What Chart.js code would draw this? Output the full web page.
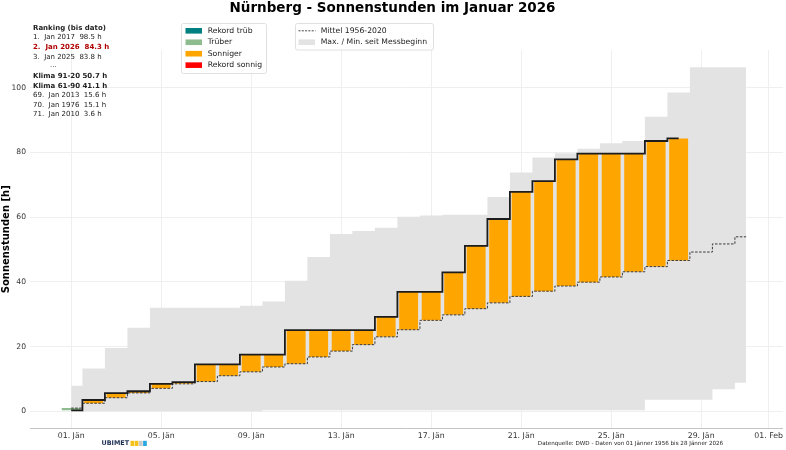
<!DOCTYPE html>
<html><head><meta charset="utf-8">
<script src="https://cdn.jsdelivr.net/npm/chart.js@4.4.1/dist/chart.umd.min.js"></script>
<style>html,body{margin:0;padding:0;background:#fff}#wrap{width:786px;height:450px;position:relative}</style>
</head><body><div id="wrap"><canvas id="c" width="786" height="450" style="width:786px;height:450px"></canvas></div>
<script>
// ---- data ----
const days = [1,2,3,4,5,6,7,8,9,10,11,12,13,14,15,16,17,18,19,20,21,22,23,24,25,26,27,28,29,30,31];
const sun2026 = [0.3,3.5,5.6,6.2,8.5,9.0,14.5,14.5,17.5,17.5,25.1,25.1,25.1,25.1,29.2,36.9,36.9,42.9,51.1,59.4,67.8,71.1,77.8,79.6,79.6,79.6,83.5,84.3];
const mean = [1.0,2.5,4.2,5.7,7.1,8.5,9.2,11.0,12.2,13.7,14.7,16.8,18.6,20.6,23.0,25.2,28.1,29.8,31.7,33.5,35.5,37.1,38.7,39.9,41.5,43.1,44.7,46.6,49.2,51.7,53.9];
const bandMax = [7.9,13.2,19.6,25.8,32.0,32.0,32.0,32.0,32.6,33.9,40.3,47.7,54.8,55.7,56.7,60.1,60.5,60.7,60.7,66.2,73.8,78.4,79.7,81.1,82.8,83.5,91.0,98.5,106.3,106.3,106.3];
const bandMin = [0,0,0,0,0,0,0,0,0,0.3,0.3,0.3,0.3,0.3,0.3,0.3,0.3,0.3,0.3,0.3,0.3,0.3,0.3,0.3,0.3,0.3,3.6,3.6,3.6,6.8,8.8];
const xTickValues = [1,5,9,13,17,21,25,29,32];
const xTickLabels = ['01. Jän','05. Jän','09. Jän','13. Jän','17. Jän','21. Jän','25. Jän','29. Jän','01. Feb'];
const yTickValues = [0,20,40,60,80,100];
const rankingLines = ['Ranking (bis dato)','1.  Jan 2017  98.5 h','2.  Jan 2026  84.3 h','3.  Jan 2025  83.8 h','...','Klima 91-20 50.7 h','Klima 61-90 41.1 h','69.  Jan 2013  15.6 h','70.  Jan 1976  15.1 h','71.  Jan 2010  3.6 h'];
const rankingStyle = ['bold','normal','red','normal','dots','bold','bold','normal','normal','normal'];
const legend1 = ['Rekord trüb','Trüber','Sonniger','Rekord sonnig'];
const legend2 = ['Mittel 1956-2020','Max. / Min. seit Messbeginn'];

const C_TEAL = '#008080', C_GREEN = '#8fbc8f', C_ORANGE = '#ffa500', C_RED = '#ff0000', C_BAND = '#e3e3e3';
const FONT = "'DejaVu Sans', sans-serif";

function barColor(i) {
  const v = sun2026[i], m = mean[i];
  if (v >= bandMax[i]) return C_RED;
  if (v <= bandMin[i] && v < m) return C_TEAL;
  return v >= m ? C_ORANGE : C_GREEN;
}

const overlay = {
  id: 'overlay',
  afterDraw(chart) {
    const ctx = chart.ctx;
    ctx.save();
    ctx.textBaseline = 'middle';
    ctx.textAlign = 'left';
    // ranking block
    rankingLines.forEach((t, i) => {
      const st = rankingStyle[i];
      ctx.font = (st === 'bold' || st === 'red' ? 'bold ' : '') + '7px ' + FONT;
      ctx.fillStyle = st === 'red' ? '#b00000' : '#222';
      const x = st === 'dots' ? 50 : 33;
      const y = 27.8 + i * 9.65 + (st === 'dots' ? -1.5 : 0);
      ctx.fillText(t, x, y);
    });
    // legend 1
    function frame(x, y, w, h) {
      ctx.fillStyle = 'rgba(255,255,255,0.85)';
      ctx.strokeStyle = '#d8d8d8';
      ctx.lineWidth = 0.8;
      ctx.beginPath();
      if (ctx.roundRect) ctx.roundRect(x, y, w, h, 2); else ctx.rect(x, y, w, h);
      ctx.fill(); ctx.stroke();
    }
    frame(181.5, 23.5, 85, 50);
    const cols = [C_TEAL, C_GREEN, C_ORANGE, C_RED];
    ctx.font = '7.7px ' + FONT;
    legend1.forEach((t, i) => {
      const y = 30.8 + i * 11.45;
      ctx.fillStyle = cols[i];
      ctx.fillRect(185.5, y - 2.8, 16.5, 5.6);
      ctx.fillStyle = '#222';
      ctx.fillText(t, 207.7, y);
    });
    frame(295.5, 23.5, 138, 26.5);
    // dashed line entry
    ctx.strokeStyle = '#333';
    ctx.lineWidth = 0.9;
    ctx.setLineDash([2, 1.3]);
    ctx.beginPath(); ctx.moveTo(298.5, 30.8); ctx.lineTo(315.5, 30.8); ctx.stroke();
    ctx.setLineDash([]);
    ctx.fillStyle = C_BAND;
    ctx.fillRect(298.5, 42.2 - 2.8, 16.5, 5.6);
    ctx.fillStyle = '#222';
    ctx.fillText(legend2[0], 320.7, 30.8);
    ctx.fillText(legend2[1], 320.7, 42.2);
    // logo
    ctx.font = 'bold 6.4px ' + FONT;
    ctx.fillStyle = '#1b2d4f';
    ctx.fillText('UBIMET', 101.5, 443.5);
    const lc = ['#f5c21b', '#f5c21b', '#c9c9c9', '#27a6df'];
    lc.forEach((c, i) => { ctx.fillStyle = c; ctx.fillRect(130.5 + i * 4.2, 440.8, 3.7, 5.2); });
    // footer
    ctx.font = '5.6px ' + FONT;
    ctx.fillStyle = '#222';
    ctx.textAlign = 'center';
    ctx.fillText('Datenquelle: DWD - Daten von 01 Jänner 1956 bis 28 Jänner 2026', 630.5, 443.3);
    ctx.restore();
  }
};

const pts = (arr) => arr.map((v, i) => ({x: days[i], y: v}));

new Chart(document.getElementById('c'), {
  type: 'line',
  data: {
    datasets: [
      { label: 'Max', data: pts(bandMax), stepped: 'middle', borderWidth: 0, borderColor: 'rgba(0,0,0,0)', backgroundColor: C_BAND, pointRadius: 0, fill: '+1', order: 5 },
      { label: 'Min', data: pts(bandMin), stepped: 'middle', borderWidth: 0, borderColor: 'rgba(0,0,0,0)', pointRadius: 0, fill: false, order: 5 },
      { label: 'Mittel', data: pts(mean), stepped: 'middle', borderColor: '#3a3a3a', borderWidth: 1, borderDash: [2.5, 1.5], pointRadius: 0, fill: false, order: 2 },
      { type: 'bar', label: 'Bars', data: sun2026.map((v, i) => ({x: days[i], y: [mean[i], v]})),
        backgroundColor: (c) => barColor(c.dataIndex), borderWidth: 0, categoryPercentage: 1, barPercentage: 0.84, order: 3 },
      { label: '2026', data: pts(sun2026), stepped: 'middle', borderColor: '#1c1c1c', borderWidth: 1.8, pointRadius: 0, fill: false, order: 1 }
    ]
  },
  options: {
    responsive: false,
    animation: false,
    events: [],
    layout: { padding: { left: 0, right: 1, top: 0, bottom: 0 } },
    plugins: {
      legend: { display: false },
      tooltip: { enabled: false },
      title: { display: true, text: 'Nürnberg - Sonnenstunden im Januar 2026', color: '#000',
        font: { family: FONT, size: 13.5, weight: 'bold' }, padding: { top: 0.5, bottom: 33.3 } }
    },
    scales: {
      x: {
        type: 'linear', min: -0.83, max: 32.63, offset: false,
        afterBuildTicks: (s) => { s.ticks = xTickValues.map(v => ({value: v})); },
        afterFit: (s) => { s.height = 21.5; },
        ticks: { autoSkip: false, maxRotation: 0, padding: 3, color: '#333', font: { family: FONT, size: 7.8 },
          callback: (v, i) => xTickLabels[i] },
        grid: { color: '#efefef', lineWidth: 1, drawTicks: false, offset: false },
        border: { display: true, color: '#c4c4c4', width: 1 }
      },
      y: {
        type: 'linear', min: -5.3, max: 111.6,
        afterBuildTicks: (s) => { s.ticks = yTickValues.map(v => ({value: v})); },
        afterFit: (s) => { s.width = 30; },
        ticks: { padding: 4, color: '#333', font: { family: FONT, size: 7.6 }, callback: (v) => String(v) },
        grid: { color: '#efefef', lineWidth: 1, drawTicks: false },
        border: { display: false },
        title: { display: true, text: 'Sonnenstunden [h]', color: '#000', padding: 0, font: { family: FONT, size: 10, weight: 'bold' } }
      }
    }
  },
  plugins: [overlay]
});
</script>
</body></html>
